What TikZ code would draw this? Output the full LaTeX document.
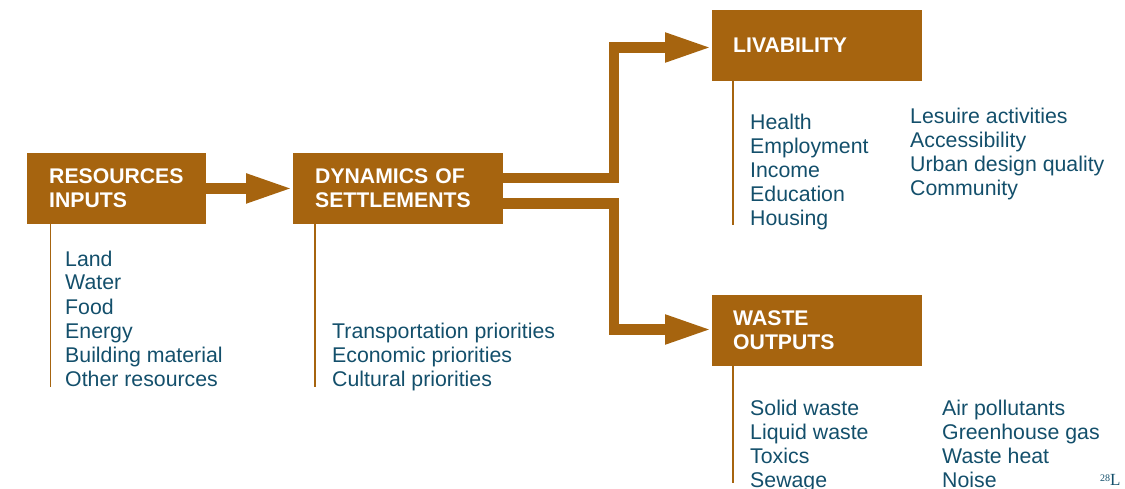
\documentclass[tikz,border=0pt]{standalone}
\usepackage{fontspec}
\setmainfont{Liberation Sans}
\newfontfamily\serifL{Liberation Serif}
\usetikzlibrary{arrows.meta}
\definecolor{brn}{HTML}{A6640F}
\definecolor{txtblue}{HTML}{134F6B}
\tikzset{
  box/.style={fill=brn, draw=none, anchor=north west, minimum height=70.5pt,
    inner xsep=22pt, inner ysep=0pt, align=left, text=white,
    font=\fontsize{21.2}{24}\selectfont\bfseries},
  item/.style={anchor=base west, inner sep=0pt, text=txtblue,
    font=\fontsize{21.3}{24}\selectfont},
  vline/.style={draw=brn, line width=1.6pt},
  bigarrow/.style={draw=brn, line width=10.5pt, line join=miter,
    -{Triangle[length=47pt,width=27pt]}},
}
\begin{document}
\begin{tikzpicture}[x=1pt,y=-1pt]
\useasboundingbox (0,0) rectangle (1125,489);
% boxes
\node[box, text width=135pt] (res) at (27,153) {RESOURCES\\INPUTS};
\node[box, text width=166pt] (dyn) at (293,153) {DYNAMICS OF\\SETTLEMENTS};
\node[box, inner xsep=21pt, text width=168pt] (liv) at (712,10) {LIVABILITY};
\node[box, inner xsep=21pt, text width=168pt] (wst) at (712,295) {WASTE\\OUTPUTS};
% vertical lines
\coordinate (resend) at (50.5,387);
\coordinate (dynend) at (315,387);
\coordinate (livend) at (733,225);
\coordinate (wstend) at (733,483);
\draw[vline] (res.south west -| resend) -- (resend);
\draw[vline] (dyn.south west -| dynend) -- (dynend);
\draw[vline] (liv.south west -| livend) -- (livend);
\draw[vline] (wst.south west -| wstend) -- (wstend);
% arrows
\coordinate (u1) at (614,178);
\coordinate (u2) at (614,47.5);
\coordinate (d1) at (614,203.5);
\coordinate (d2) at (614,329.5);
\draw[bigarrow] (res.east) -- (dyn.west);
\draw[bigarrow] (dyn.east |- u1) -- (u1) -- (u2) -- (liv.west |- u2);
\draw[bigarrow] (dyn.east |- d1) -- (d1) -- (d2) -- (wst.west |- d2);
% lists
\foreach \t [count=\i] in {Land,Water,Food,Energy,Building material,Other resources}
  \node[item] (r\i) at (65,{266+24*(\i-1)}) {\t};
\foreach \t [count=\i] in {Transportation priorities,Economic priorities,Cultural priorities}
  \node[item] (p\i) at (332,{338+24*(\i-1)}) {\t};
\foreach \t [count=\i] in {Health,Employment,Income,Education,Housing}
  \node[item] (la\i) at (750,{130+24*(\i-1)}) {\t};
\foreach \t [count=\i] in {Lesuire activities,Accessibility,Urban design quality,Community}
  \node[item] (lb\i) at (910,{124+24*(\i-1)}) {\t};
\foreach \t [count=\i] in {Solid waste,Liquid waste,Toxics,Sewage}
  \node[item] (wa\i) at (750,{415+24*(\i-1)}) {\t};
\foreach \t [count=\i] in {Air pollutants,Greenhouse gas,Waste heat,Noise}
  \node[item] (wb\i) at (942,{415+24*(\i-1)}) {\t};
% page mark
\node[anchor=base west, inner sep=0pt, text=txtblue] (pg) at (1100,485)
  {\serifL\fontsize{10}{10}\selectfont\raisebox{4pt}{28}\fontsize{17}{17}\selectfont L};
\end{tikzpicture}
\end{document}
